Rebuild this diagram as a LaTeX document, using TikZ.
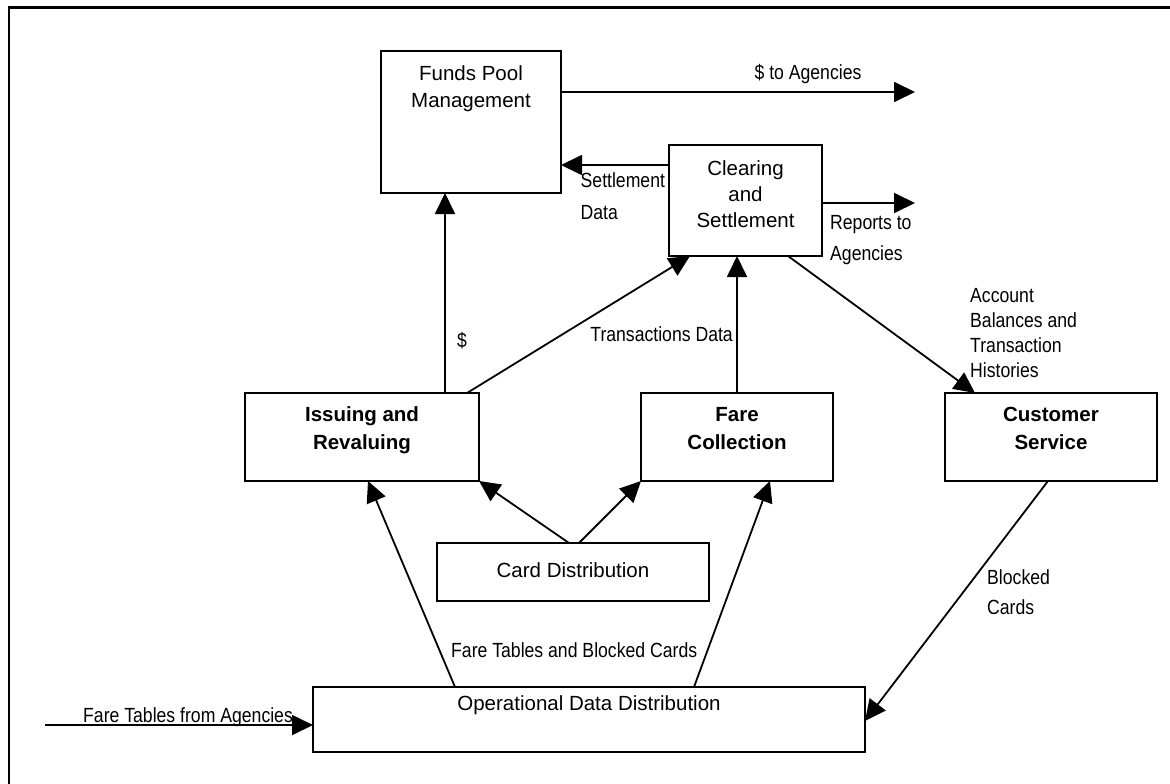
\documentclass[tikz,border=0pt]{standalone}
\usepackage{fontspec}
\setmainfont{Liberation Sans}
\newfontfamily\narrowfont[FakeStretch=0.86]{Liberation Sans}
\usetikzlibrary{arrows.meta,calc}

\tikzset{
  box/.style={draw, line width=2pt, rectangle, inner sep=0pt, outer sep=0pt},
  boxtext/.style={align=center, inner sep=0pt, anchor=base},
  flow/.style={line width=1.8pt, -{Triangle[length=21pt,width=20pt]}},
  lbl/.style={inner sep=0pt, font=\narrowfont\fontsize{20.5}{25}\selectfont},
  frame/.style={line width=2.2pt}
}

\begin{document}
\begin{tikzpicture}[x=1pt,y=-1pt]
\useasboundingbox (0,0) rectangle (1170,784);

% page frame (top and left rules)
\draw[frame] (9,784) -- (9,7.5) -- (1170,7.5);

% process boxes
\node[box, minimum width=180pt, minimum height=142pt] (funds)  at (471,122)   {};
\node[box, minimum width=153pt, minimum height=111pt] (clear)  at (745.5,200.5) {};
\node[box, minimum width=234pt, minimum height=88pt]  (issue)  at (362,437)   {};
\node[box, minimum width=192pt, minimum height=88pt]  (fare)   at (737,437)   {};
\node[box, minimum width=212pt, minimum height=88pt]  (cust)   at (1051,437)  {};
\node[box, minimum width=272pt, minimum height=58pt]  (card)   at (573,572)   {};
\node[box, minimum width=552pt, minimum height=65pt]  (opdata) at (589,719.5) {};

% box captions (base anchor = baseline of the last line)
\node[boxtext, font=\fontsize{20.5}{27}\selectfont] (fundsT) at (471,107) {Funds Pool\\Management};
\node[boxtext, font=\fontsize{20.5}{26}\selectfont] (clearT) at (745.5,227) {Clearing\\and\\Settlement};
\node[boxtext, font=\bfseries\fontsize{20.5}{28}\selectfont] (issueT) at (362,449) {Issuing and\\Revaluing};
\node[boxtext, font=\bfseries\fontsize{20.5}{28}\selectfont] (fareT) at (737,449) {Fare\\Collection};
\node[boxtext, font=\bfseries\fontsize{20.5}{28}\selectfont] (custT) at (1051,449) {Customer\\Service};
\node[boxtext, font=\fontsize{20.5}{25}\selectfont] (cardT) at (573,577) {Card Distribution};
\node[boxtext, font=\fontsize{20.5}{25}\selectfont] (opT) at (589,710) {Operational Data Distribution};

% open ends of external flows
\coordinate (toAg)  at (915,92);
\coordinate (repAg) at (915,203);
\coordinate (fromAg) at (45,725);

% flows
\draw[flow] (funds.east |- 0,92) -- (toAg);
\draw[flow] (clear.west |- 0,165) -- (funds.east |- 0,165);
\draw[flow] (clear.east |- 0,203) -- (repAg);
\draw[flow] (issue.north -| 445,0) -- (funds.south -| 445,0);
\draw[flow] (issue.north -| 467,0) -- (clear.south -| 690,0);
\draw[flow] (fare.north -| 737,0) -- (clear.south -| 737,0);
\draw[flow] (clear.south -| 788,0) -- (cust.north -| 975,0);
\draw[flow] (card.north -| 569,0) -- (issue.south east);
\draw[flow] (card.north -| 579,0) -- (fare.south west);
\draw[flow] (opdata.north -| 455,0) -- (issue.south -| 368,0);
\draw[flow] (opdata.north -| 694,0) -- (fare.south -| 770,0);
\draw[flow] (cust.south -| 1048,0) -- (opdata.east |- 0,721);
\draw[flow] (fromAg) -- (opdata.west |- 0,725);

% flow labels
\node[lbl, anchor=base] (lToAg) at (808,79.5) {\$ to Agencies};
\node[lbl, anchor=base west, align=left, font=\narrowfont\fontsize{20.5}{32}\selectfont] (lSettle) at (580.5,219) {Settlement\\Data};
\node[lbl, anchor=base west, align=left, font=\narrowfont\fontsize{20.5}{31}\selectfont] (lRep) at (830,260) {Reports to\\Agencies};
\node[lbl, anchor=base] (lDollar) at (462,347) {\$};
\node[lbl, anchor=base east] (lTrans) at (733,341) {Transactions Data};
\node[lbl, anchor=base west, align=left, font=\narrowfont\fontsize{20.5}{24.7}\selectfont] (lAcct) at (970,377) {Account\\Balances and\\Transaction\\Histories};
\node[lbl, anchor=base west, align=left, font=\narrowfont\fontsize{20.5}{30}\selectfont] (lBlock) at (987,614) {Blocked\\Cards};
\node[lbl, anchor=base west] (lFareBl) at (451,657) {Fare Tables and Blocked Cards};
\node[lbl, anchor=base west] (lFrom) at (83,722) {Fare Tables from Agencies};
\end{tikzpicture}
\end{document}
